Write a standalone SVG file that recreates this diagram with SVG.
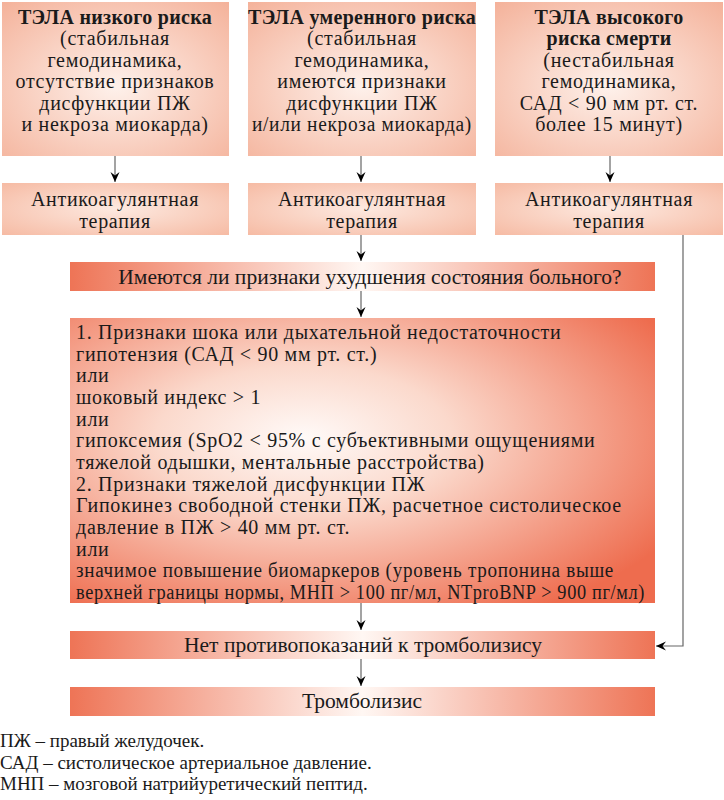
<svg xmlns="http://www.w3.org/2000/svg" width="724" height="800" viewBox="0 0 724 800">
<defs>
<radialGradient id="gTop" cx="0.5" cy="0.55" r="0.75">
<stop offset="0" stop-color="#fef1eb"/>
<stop offset="1" stop-color="#f4b199"/>
</radialGradient>
<radialGradient id="gAc" cx="0.5" cy="0.5" r="0.7">
<stop offset="0" stop-color="#fde9e0"/>
<stop offset="1" stop-color="#f6bba4"/>
</radialGradient>
<linearGradient id="gWide" x1="0" y1="0" x2="1" y2="0">
<stop offset="0" stop-color="#ee7456"/>
<stop offset="0.5" stop-color="#fff7f3"/>
<stop offset="1" stop-color="#ee7456"/>
</linearGradient>
<radialGradient id="gBig" cx="0.4" cy="0.42" r="0.72">
<stop offset="0" stop-color="#fffaf8"/>
<stop offset="0.35" stop-color="#fbd9cc"/>
<stop offset="1" stop-color="#ee6c4e"/>
</radialGradient>
<marker id="arr" markerWidth="11" markerHeight="10" refX="10" refY="4.5" orient="auto" markerUnits="userSpaceOnUse">
<path d="M0,0 L10,4.5 L0,9 L3.5,4.5 z" fill="#000"/>
</marker>
<style>
text{font-family:"Liberation Serif","DejaVu Serif",serif;fill:#1a1a1a;font-size:21.5px}
.t{font-size:20px;letter-spacing:0.7px}
.c{text-anchor:middle}
.b{font-weight:bold;font-size:20px;letter-spacing:0.3px}
.fn{font-size:19px}
.ln{stroke:#666;stroke-width:1.2;fill:none}
</style>
</defs>
<g id="connectors">
<line class="ln" x1="115" y1="156" x2="115" y2="182" marker-end="url(#arr)"/>
<line class="ln" x1="361" y1="156" x2="361" y2="182" marker-end="url(#arr)"/>
<line class="ln" x1="610" y1="156" x2="610" y2="182" marker-end="url(#arr)"/>
<line class="ln" x1="361" y1="235" x2="361" y2="261" marker-end="url(#arr)"/>
<line class="ln" x1="361" y1="291" x2="361" y2="317" marker-end="url(#arr)"/>
<line class="ln" x1="361" y1="603" x2="361" y2="630" marker-end="url(#arr)"/>
<line class="ln" x1="361" y1="659" x2="361" y2="686" marker-end="url(#arr)"/>
<polyline class="ln" points="683,235 683,646 656,646" marker-end="url(#arr)"/>
</g>
<g id="low">
<rect x="2" y="2" width="227" height="154" fill="url(#gTop)"/>
<text class="c t" x="115" y="24"><tspan class="b">ТЭЛА низкого риска</tspan><tspan x="115" y="45.4">(стабильная</tspan><tspan x="115" y="66.8">гемодинамика,</tspan><tspan x="115" y="88.2">отсутствие признаков</tspan><tspan x="115" y="109.6">дисфункции ПЖ</tspan><tspan x="115" y="131">и некроза миокарда)</tspan></text>
</g>
<g id="moderate">
<rect x="248" y="2" width="228" height="154" fill="url(#gTop)"/>
<text class="c t" x="362" y="24"><tspan class="b">ТЭЛА умеренного риска</tspan><tspan x="362" y="45.4">(стабильная</tspan><tspan x="362" y="66.8">гемодинамика,</tspan><tspan x="362" y="88.2">имеются признаки</tspan><tspan x="362" y="109.6">дисфункции ПЖ</tspan><tspan x="362" y="131" textLength="220" lengthAdjust="spacingAndGlyphs">и/или некроза миокарда)</tspan></text>
</g>
<g id="high">
<rect x="495" y="2" width="228" height="154" fill="url(#gTop)"/>
<text class="c t" x="609" y="24"><tspan class="b">ТЭЛА высокого</tspan><tspan class="b" x="609" y="45.4">риска смерти</tspan><tspan x="609" y="66.8">(нестабильная</tspan><tspan x="609" y="88.2">гемодинамика,</tspan><tspan x="609" y="109.6">САД &lt; 90 мм рт. ст.</tspan><tspan x="609" y="131">более 15 минут)</tspan></text>
</g>
<g id="ac1">
<rect x="2" y="183" width="227" height="52" fill="url(#gAc)"/>
<text class="c t" x="115" y="206">Антикоагулянтная<tspan x="115" y="227.5">терапия</tspan></text>
</g>
<g id="ac2">
<rect x="248" y="183" width="228" height="52" fill="url(#gAc)"/>
<text class="c t" x="362" y="206">Антикоагулянтная<tspan x="362" y="227.5">терапия</tspan></text>
</g>
<g id="ac3">
<rect x="495" y="183" width="228" height="52" fill="url(#gAc)"/>
<text class="c t" x="609" y="206">Антикоагулянтная<tspan x="609" y="227.5">терапия</tspan></text>
</g>
<g id="worse">
<rect x="70" y="262" width="585" height="29" fill="url(#gWide)"/>
<text class="c" x="370" y="284">Имеются ли признаки ухудшения состояния больного?</text>
</g>
<g id="criteria">
<rect x="70" y="318" width="585" height="285" fill="url(#gBig)"/>
<text class="t" x="76" y="339">1. Признаки шока или дыхательной недостаточности<tspan x="76" y="360.7">гипотензия (САД &lt; 90 мм рт. ст.)</tspan><tspan x="76" y="382.3">или</tspan><tspan x="76" y="404">шоковый индекс &gt; 1</tspan><tspan x="76" y="425.7">или</tspan><tspan x="76" y="447.3">гипоксемия (SpO2 &lt; 95% с субъективными ощущениями</tspan><tspan x="76" y="469">тяжелой одышки, ментальные расстройства)</tspan><tspan x="76" y="490.7">2. Признаки тяжелой дисфункции ПЖ</tspan><tspan x="76" y="512.3">Гипокинез свободной стенки ПЖ, расчетное систолическое</tspan><tspan x="76" y="534">давление в ПЖ &gt; 40 мм рт. ст.</tspan><tspan x="76" y="555.7">или</tspan><tspan x="76" y="577.3" textLength="538" lengthAdjust="spacingAndGlyphs">значимое повышение биомаркеров (уровень тропонина выше</tspan><tspan x="76" y="599" textLength="569" lengthAdjust="spacingAndGlyphs">верхней границы нормы, МНП &gt; 100 пг/мл, NTproBNP &gt; 900 пг/мл)</tspan></text>
</g>
<g id="nocontra">
<rect x="70" y="631" width="585" height="28" fill="url(#gWide)"/>
<text class="c" x="363" y="652">Нет противопоказаний к тромболизису</text>
</g>
<g id="thrombolysis">
<rect x="70" y="687" width="585" height="29" fill="url(#gWide)"/>
<text class="c" x="362" y="708">Тромболизис</text>
</g>
<g id="notes">
<text class="fn" x="0" y="747">ПЖ – правый желудочек.</text>
<text class="fn" x="0" y="769">САД – систолическое артериальное давление.</text>
<text class="fn" x="0" y="790">МНП – мозговой натрийуретический пептид.</text>
</g>
</svg>
